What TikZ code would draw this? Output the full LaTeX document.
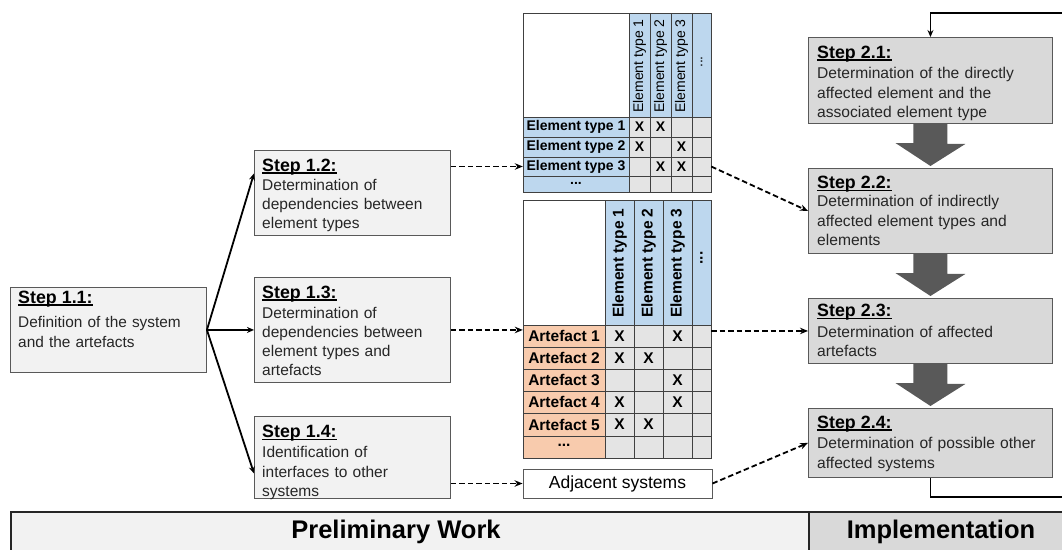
\documentclass[tikz,border=0pt]{standalone}
\usepackage{fontspec}
\setmainfont{Liberation Sans}
\newfontfamily\bodyfam{Liberation Sans}[WordSpace={1.8,0.2,0}]
\usetikzlibrary{arrows.meta,calc,fit}

\definecolor{stepone}{HTML}{F2F2F2}
\definecolor{steptwo}{HTML}{D9D9D9}
\definecolor{bordergray}{HTML}{595959}
\definecolor{mblue}{HTML}{BDD7EE}
\definecolor{morange}{HTML}{F8CBAD}
\definecolor{mgray}{HTML}{E4E4E4}
\definecolor{arrowgray}{HTML}{595959}
\definecolor{gridcol}{HTML}{404040}
\definecolor{txt}{HTML}{262626}

\newcommand\bodyfonta{\bodyfam\fontsize{15.4}{19.8}\selectfont\color{txt}}
\newcommand\bodyfontb{\bodyfam\fontsize{15.5}{19.3}\selectfont\color{txt}}
\newcommand\bodyfontc{\bodyfam\fontsize{15.6}{19.5}\selectfont\color{txt}}
\newcommand\stephead[1]{{\rmfamily\fontsize{17.8}{19.5}\selectfont\bfseries\color{black}%
  \setbox0=\hbox{#1}\rlap{\rule[-2.6pt]{\wd0}{1.3pt}}\box0}}

\tikzset{
  stepboxa/.style={draw=bordergray, line width=0.9pt, fill=stepone, anchor=north west, inner sep=0pt, minimum width=196pt},
  stepboxb/.style={draw=bordergray, line width=0.9pt, fill=steptwo, anchor=north west, inner sep=0pt, minimum width=244pt},
  steptext/.style={text width=#1, align=left, inner sep=0pt, anchor=base west},
  solidarrow/.style={line width=1.8pt, -{Stealth[length=7pt,width=6pt]}},
  dasharrow/.style={line width=1.8pt, dash pattern=on 5.5pt off 3pt, -{Stealth[length=8pt,width=6.5pt]}},
  gridline/.style={draw=gridcol, line width=0.8pt},
  rowlaba/.style={inner sep=0pt, font=\fontsize{14}{16}\selectfont\bfseries},
  rowlabb/.style={inner sep=0pt, font=\fontsize{15.5}{17}\selectfont\bfseries},
  colheada/.style={inner sep=0pt, rotate=90, anchor=west, font=\fontsize{14}{16}\selectfont},
  colheadb/.style={inner sep=0pt, rotate=90, anchor=west, font=\fontsize{15.5}{17}\selectfont\bfseries},
  xmarka/.style={inner sep=0pt, font=\fontsize{14}{16}\selectfont\bfseries},
  xmarkb/.style={inner sep=0pt, font=\fontsize{15.5}{17}\selectfont\bfseries},
  blockarrow/.style={fill=arrowgray},
  barbox/.style={draw=black!85, line width=1.5pt, anchor=north west, inner sep=0pt},
  bartext/.style={inner sep=0pt, font=\fontsize{25.5}{28}\selectfont\bfseries}
}

\begin{document}
\begin{tikzpicture}[x=1pt, y=-1pt]
\useasboundingbox (0,0) rectangle (1062,549);
\clip (0,0) rectangle (1062,549);

% ---------- Step 1 boxes ----------
\node[stepboxa, minimum height=85pt] (s11) at (10,287) {};
\node[steptext=190pt, font=\bodyfonta] (t11) at (18,303) {\stephead{Step 1.1:}\\[5pt]Definition of the system\\and the artefacts};

\node[stepboxa, minimum height=85pt] (s12) at (254,150) {};
\node[steptext=190pt, font=\bodyfontb] (t12) at (262,171) {\stephead{Step 1.2:}\\[0pt]Determination of\\dependencies between\\element types};

\node[stepboxa, minimum height=105pt] (s13) at (254,277) {};
\node[steptext=190pt, font=\bodyfontb] (t13) at (262,298) {\stephead{Step 1.3:}\\[0.7pt]Determination of\\dependencies between\\element types and\\artefacts};

\node[stepboxa, minimum height=82pt] (s14) at (254,416) {};
\node[steptext=190pt, font=\bodyfontb] (t14) at (262,437.5) {\stephead{Step 1.4:}\\[1pt]Identification of\\interfaces to other\\systems};

% ---------- Step 2 boxes ----------
\node[stepboxb, minimum height=86pt] (s21) at (808,37) {};
\node[steptext=238pt, font=\bodyfontc] (t21) at (817,58) {\stephead{Step 2.1:}\\[1pt]Determination of the directly\\affected element and the\\associated element type};

\node[stepboxb, minimum height=85pt] (s22) at (808,168) {};
\node[steptext=238pt, font=\bodyfontc] (t22) at (817,188.5) {\stephead{Step 2.2:}\\[-1.5pt]Determination of indirectly\\affected element types and\\elements};

\node[stepboxb, minimum height=65pt] (s23) at (808,298) {};
\node[steptext=238pt, font=\bodyfontc] (t23) at (817,316.5) {\stephead{Step 2.3:}\\[1pt]Determination of affected\\artefacts};

\node[stepboxb, minimum height=69pt] (s24) at (808,408) {};
\node[steptext=238pt, font=\bodyfontc] (t24) at (817,428) {\stephead{Step 2.4:}\\[1pt]Determination of possible other\\affected systems};

% ---------- block arrows ----------
\fill[blockarrow] ($(s21.south)+(-17,0)$) -- ++(34,0) -- ++(0,20) -- ++(18,0) -- ($(s22.north)+(0,-2)$) -- ++(-35,-23) -- ++(18,0) -- cycle;
\fill[blockarrow] ($(s22.south)+(-17,0)$) -- ++(34,0) -- ++(0,20) -- ++(18,0) -- ($(s23.north)+(0,-2)$) -- ++(-35,-23) -- ++(18,0) -- cycle;
\fill[blockarrow] ($(s23.south)+(-17,0)$) -- ++(34,0) -- ++(0,20) -- ++(18,0) -- ($(s24.north)+(0,-2)$) -- ++(-35,-23) -- ++(18,0) -- cycle;

% ---------- Matrix 1 ----------
\fill[white] (523,13) rectangle (629,117);
\fill[mblue] (629,13) rectangle (711,117);
\fill[mblue] (523,117) rectangle (629,192);
\fill[mgray] (629,117) rectangle (711,192);
\foreach \x in {629,650,671,692} \draw[gridline] (\x,13) -- (\x,192);
\foreach \y in {117,137,157,176} \draw[gridline] (523,\y) -- (711,\y);
\draw[draw=gridcol, line width=1pt] (523,13) rectangle (711,192);
\node[fit={(523,13) (711,192)}, inner sep=0pt] (m1) {};

\node[rowlaba] (m1r1) at (576,127) {Element type 1};
\node[rowlaba] (m1r2) at (576,147) {Element type 2};
\node[rowlaba] (m1r3) at (576,166.5) {Element type 3};
\node[rowlaba] (m1r4) at (576,183) {...};
\node[colheada] (m1c1) at (639.5,113) {Element type 1};
\node[colheada] (m1c2) at (660.5,113) {Element type 2};
\node[colheada] (m1c3) at (681.5,113) {Element type 3};
\node[inner sep=0pt, rotate=90, font=\fontsize{14}{16}\selectfont] (m1c4) at (701.5,62) {...};
\foreach \cx/\cy [count=\i] in {639.5/127, 660.5/127, 639.5/147, 681.5/147, 660.5/166.5, 681.5/166.5}
  \node[xmarka] (m1x\i) at (\cx,\cy) {X};

% ---------- Matrix 2 ----------
\fill[white] (523,200) rectangle (605,325);
\fill[mblue] (605,200) rectangle (711,325);
\fill[morange] (523,325) rectangle (605,458);
\fill[mgray] (605,325) rectangle (711,458);
\foreach \x in {605,634,663,692} \draw[gridline] (\x,200) -- (\x,458);
\foreach \y in {325,347,369,391,413,436} \draw[gridline] (523,\y) -- (711,\y);
\draw[draw=gridcol, line width=1pt] (523,200) rectangle (711,458);
\node[fit={(523,200) (711,458)}, inner sep=0pt] (m2) {};

\node[rowlabb] (m2r1) at (564,336) {Artefact 1};
\node[rowlabb] (m2r2) at (564,358) {Artefact 2};
\node[rowlabb] (m2r3) at (564,380) {Artefact 3};
\node[rowlabb] (m2r4) at (564,402) {Artefact 4};
\node[rowlabb] (m2r5) at (564,424.5) {Artefact 5};
\node[rowlabb] (m2r6) at (564,445) {...};
\node[colheadb] (m2c1) at (619.5,318) {Element type 1};
\node[colheadb] (m2c2) at (648.5,318) {Element type 2};
\node[colheadb] (m2c3) at (677.5,318) {Element type 3};
\node[inner sep=0pt, rotate=90, font=\fontsize{15.5}{17}\selectfont\bfseries] (m2c4) at (701.5,258) {...};
\foreach \cx/\cy [count=\i] in {619.5/336, 677.5/336, 619.5/358, 648.5/358, 677.5/380, 619.5/402, 677.5/402, 619.5/424.5, 648.5/424.5}
  \node[xmarkb] (m2x\i) at (\cx,\cy) {X};

% ---------- Adjacent systems ----------
\node[draw=bordergray, line width=0.9pt, fill=white, minimum width=189pt, minimum height=29pt, inner sep=0pt, font=\fontsize{17.5}{20}\selectfont] (adj) at (617.5,483.5) {Adjacent systems};

% ---------- solid arrows ----------
\draw[solidarrow] (s11.east) -- ([yshift=19.5pt]s12.west);
\draw[solidarrow] (s11.east) -- (s13.west);
\draw[solidarrow] (s11.east) -- ([yshift=-16pt]s14.west);

% ---------- dashed arrows ----------
\draw[dasharrow] (s12.east |- m1r3) -- (m1.west |- m1r3);
\draw[dasharrow] (m1.east |- m1r3) -- (s22.west);
\draw[dasharrow] (s13.east) -- (s13.east -| m2.west);
\draw[dasharrow] (s23.west -| m2.east) -- (s23.west);
\draw[dasharrow] (s14.east |- adj) -- (adj.west);
\draw[dasharrow] (adj.east) -- (s24.west);

% ---------- feedback loop ----------
\coordinate (loopR) at (1080,13);
\draw[line width=1.8pt, -{Stealth[length=7pt,width=6pt]}] (s24.south) -- ++(0,19) -| (loopR) -| (s21.north);

% ---------- bottom bar ----------
\node[barbox, fill=stepone, minimum width=798pt, minimum height=50pt] (bar1) at (10,511) {};
\node[barbox, fill=steptwo, minimum width=262pt, minimum height=50pt] (bar2) at (808,511) {};
\node[bartext] (bt1) at (396,532) {Preliminary Work};
\node[bartext] (bt2) at (941,532) {Implementation};
\end{tikzpicture}
\end{document}
